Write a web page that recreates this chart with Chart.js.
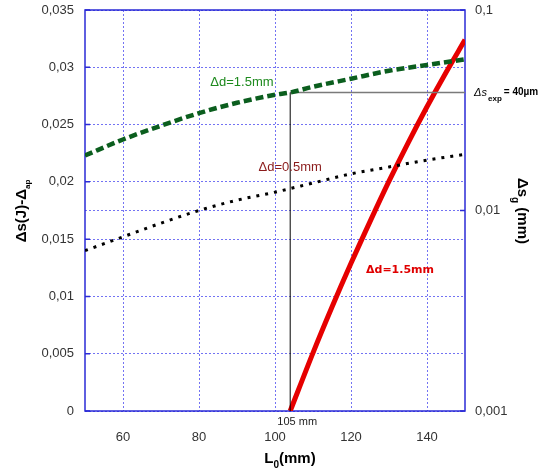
<!DOCTYPE html>
<html>
<head>
<meta charset="utf-8">
<script src="https://cdn.jsdelivr.net/npm/chart.js@4.4.0/dist/chart.umd.min.js"></script>
<style>
  html, body { margin: 0; padding: 0; background: #fff; }
  #wrap { width: 539px; height: 475px; }
</style>
</head>
<body>
<div id="wrap"><canvas id="chart"></canvas></div>
<script>
// L0 (mm) and values
const wideL = [50, 60, 70, 80, 90, 100, 104, 110, 120, 130, 140, 150];
const wideS = [0.0223, 0.0237, 0.0249, 0.0260, 0.0269, 0.0276, 0.0278, 0.0283, 0.0290, 0.0297, 0.0302, 0.0307];

const narrowL = [50, 60, 70, 80, 90, 100, 110, 120, 130, 140, 150];
const narrowS = [0.0140, 0.0152, 0.0164, 0.0175, 0.0184, 0.0191, 0.0199, 0.0207, 0.0213, 0.0219, 0.0224];

const gapL = [104, 110, 115, 120, 125, 130, 135, 140, 145, 150];
const gapS = [0.001, 0.00195, 0.0033, 0.00545, 0.0088, 0.014, 0.0217, 0.0329, 0.0488, 0.071];

const cutL = 104;       // "105 mm"
const cutS = 0.0278;    // where the Δs_exp line meets the green curve

const xTicks = [60, 80, 100, 120, 140];
const leftTicks = [0, 0.005, 0.01, 0.015, 0.02, 0.025, 0.03, 0.035];
const rightTicks = [0.001, 0.01, 0.1];

const F = "'Liberation Sans', Arial, sans-serif";
const gridColor = 'rgba(80, 80, 240, 0.8)';
const frameColor = '#2b2bd6';

const pts = (xs, ys) => xs.map((v, i) => ({ x: v, y: ys[i] }));
const comma = v => String(v).replace('.', ',');

function rich(ctx, parts, x, y, angle) {
  ctx.save();
  ctx.translate(x, y);
  ctx.rotate(angle);
  let w = 0;
  parts.forEach(p => { ctx.font = p.font; w += ctx.measureText(p.t).width; });
  let cx = -w / 2;
  ctx.textBaseline = 'middle';
  ctx.textAlign = 'left';
  parts.forEach(p => {
    ctx.font = p.font;
    ctx.fillStyle = p.color || '#000';
    ctx.fillText(p.t, cx, p.dy || 0);
    cx += ctx.measureText(p.t).width;
  });
  ctx.restore();
}

const frame = {
  id: 'frame',
  beforeDatasetsDraw(chart) {
    const { ctx, chartArea: a, scales: { y, y2 } } = chart;
    ctx.save();
    ctx.strokeStyle = frameColor;
    ctx.lineWidth = 1.5;
    ctx.strokeRect(a.left, a.top, a.right - a.left, a.bottom - a.top);
    ctx.beginPath();
    leftTicks.forEach(v => {
      const py = y.getPixelForValue(v);
      ctx.moveTo(a.left, py); ctx.lineTo(a.left + 5, py);
    });
    rightTicks.forEach(v => {
      const py = y2.getPixelForValue(v);
      ctx.moveTo(a.right, py); ctx.lineTo(a.right - 5, py);
    });
    ctx.stroke();
    ctx.restore();
  },
  afterDraw(chart) {
    const { ctx, chartArea: a, scales: { x, y } } = chart;
    ctx.save();
    ctx.textBaseline = 'middle';
    ctx.textAlign = 'center';

    ctx.font = '13px ' + F;
    ctx.fillStyle = '#1e8a1e';
    ctx.fillText('\u0394d=1.5mm', x.getPixelForValue(91.3), y.getPixelForValue(0.0287));

    ctx.fillStyle = '#8b1c1c';
    ctx.fillText('\u0394d=0.5mm', x.getPixelForValue(104), y.getPixelForValue(0.0213));

    ctx.font = "bold 11px 'DejaVu Sans', sans-serif";
    ctx.fillStyle = '#e00000';
    ctx.fillText('\u0394d=1.5mm', x.getPixelForValue(132.9), y.getPixelForValue(0.0123));

    ctx.font = '11px ' + F;
    ctx.fillStyle = '#222';
    ctx.fillText('105 mm', x.getPixelForValue(cutL) + 7, a.bottom + 11);

    // Δs_exp = 40µm
    ctx.textAlign = 'left';
    const ey = y.getPixelForValue(cutS);
    ctx.fillStyle = '#000';
    ctx.font = 'italic 11px ' + F;
    ctx.fillText('\u0394s', a.right + 9, ey);
    ctx.font = 'bold 8px ' + F;
    ctx.fillText('exp', a.right + 23, ey + 6);
    ctx.font = 'bold 10px ' + F;
    ctx.fillText(' = 40\u00b5m', a.right + 36, ey);

    // axis titles
    rich(ctx, [
      { t: '\u0394s(J)-\u0394', font: 'bold 15px ' + F },
      { t: 'ap', font: 'bold 8px ' + F, dy: 6 }
    ], 22, 211, -Math.PI / 2);

    rich(ctx, [
      { t: '\u0394s', font: 'bold 15px ' + F },
      { t: 'g', font: 'bold 10px ' + F, dy: 7 },
      { t: ' (mm)', font: 'bold 15px ' + F }
    ], 522, 211, Math.PI / 2);

    rich(ctx, [
      { t: 'L', font: 'bold 15px ' + F },
      { t: '0', font: 'bold 10px ' + F, dy: 6 },
      { t: '(mm)', font: 'bold 15px ' + F }
    ], 290, 459, 0);

    ctx.restore();
  }
};

new Chart(document.getElementById('chart'), {
  type: 'line',
  data: {
    datasets: [
      {
        data: pts(wideL, wideS), yAxisID: 'y',
        borderColor: '#0b5e1e', borderWidth: 4.5, borderDash: [8, 4],
        pointRadius: 0, cubicInterpolationMode: 'monotone'
      },
      {
        data: pts(narrowL, narrowS), yAxisID: 'y',
        borderColor: '#000', borderWidth: 3, borderDash: [3, 6],
        pointRadius: 0, cubicInterpolationMode: 'monotone'
      },
      {
        data: [{ x: cutL, y: 0 }, { x: cutL, y: cutS }], yAxisID: 'y',
        borderColor: '#000', borderWidth: 1, pointRadius: 0
      },
      {
        data: [{ x: cutL, y: cutS }, { x: 150, y: cutS }], yAxisID: 'y',
        borderColor: '#7a7a7a', borderWidth: 1.5, pointRadius: 0
      },
      {
        data: pts(gapL, gapS), yAxisID: 'y2',
        borderColor: '#e60000', borderWidth: 5,
        pointRadius: 0, cubicInterpolationMode: 'monotone'
      }
    ]
  },
  options: {
    responsive: true,
    maintainAspectRatio: false,
    animation: false,
    layout: { padding: 0 },
    plugins: { legend: { display: false }, tooltip: { enabled: false } },
    scales: {
      x: {
        type: 'linear', min: 50, max: 150,
        afterBuildTicks: s => { s.ticks = xTicks.map(v => ({ value: v })); },
        afterFit: s => { s.height = 64; },
        grid: { color: gridColor, lineWidth: 1, drawTicks: false },
        border: { display: false, dash: [2, 2] },
        ticks: { padding: 19, color: '#333', font: { size: 13, family: F } }
      },
      y: {
        position: 'left', min: 0, max: 0.035,
        afterBuildTicks: s => { s.ticks = leftTicks.map(v => ({ value: v })); },
        afterFit: s => { s.width = 85; s.paddingTop = 10; s.paddingBottom = 10; },
        grid: { color: gridColor, lineWidth: 1, drawTicks: false },
        border: { display: false, dash: [2, 2] },
        ticks: { padding: 11, color: '#333', font: { size: 13, family: F }, callback: v => comma(v) }
      },
      y2: {
        type: 'logarithmic', position: 'right', min: 0.001, max: 0.1,
        afterBuildTicks: s => { s.ticks = rightTicks.map(v => ({ value: v })); },
        afterFit: s => { s.width = 74; s.paddingTop = 10; s.paddingBottom = 10; },
        grid: { color: gridColor, lineWidth: 1, drawTicks: false },
        border: { display: false, dash: [2, 2] },
        ticks: { padding: 10, color: '#333', font: { size: 13, family: F }, callback: v => comma(v) }
      }
    }
  },
  plugins: [frame]
});
</script>
</body>
</html>
